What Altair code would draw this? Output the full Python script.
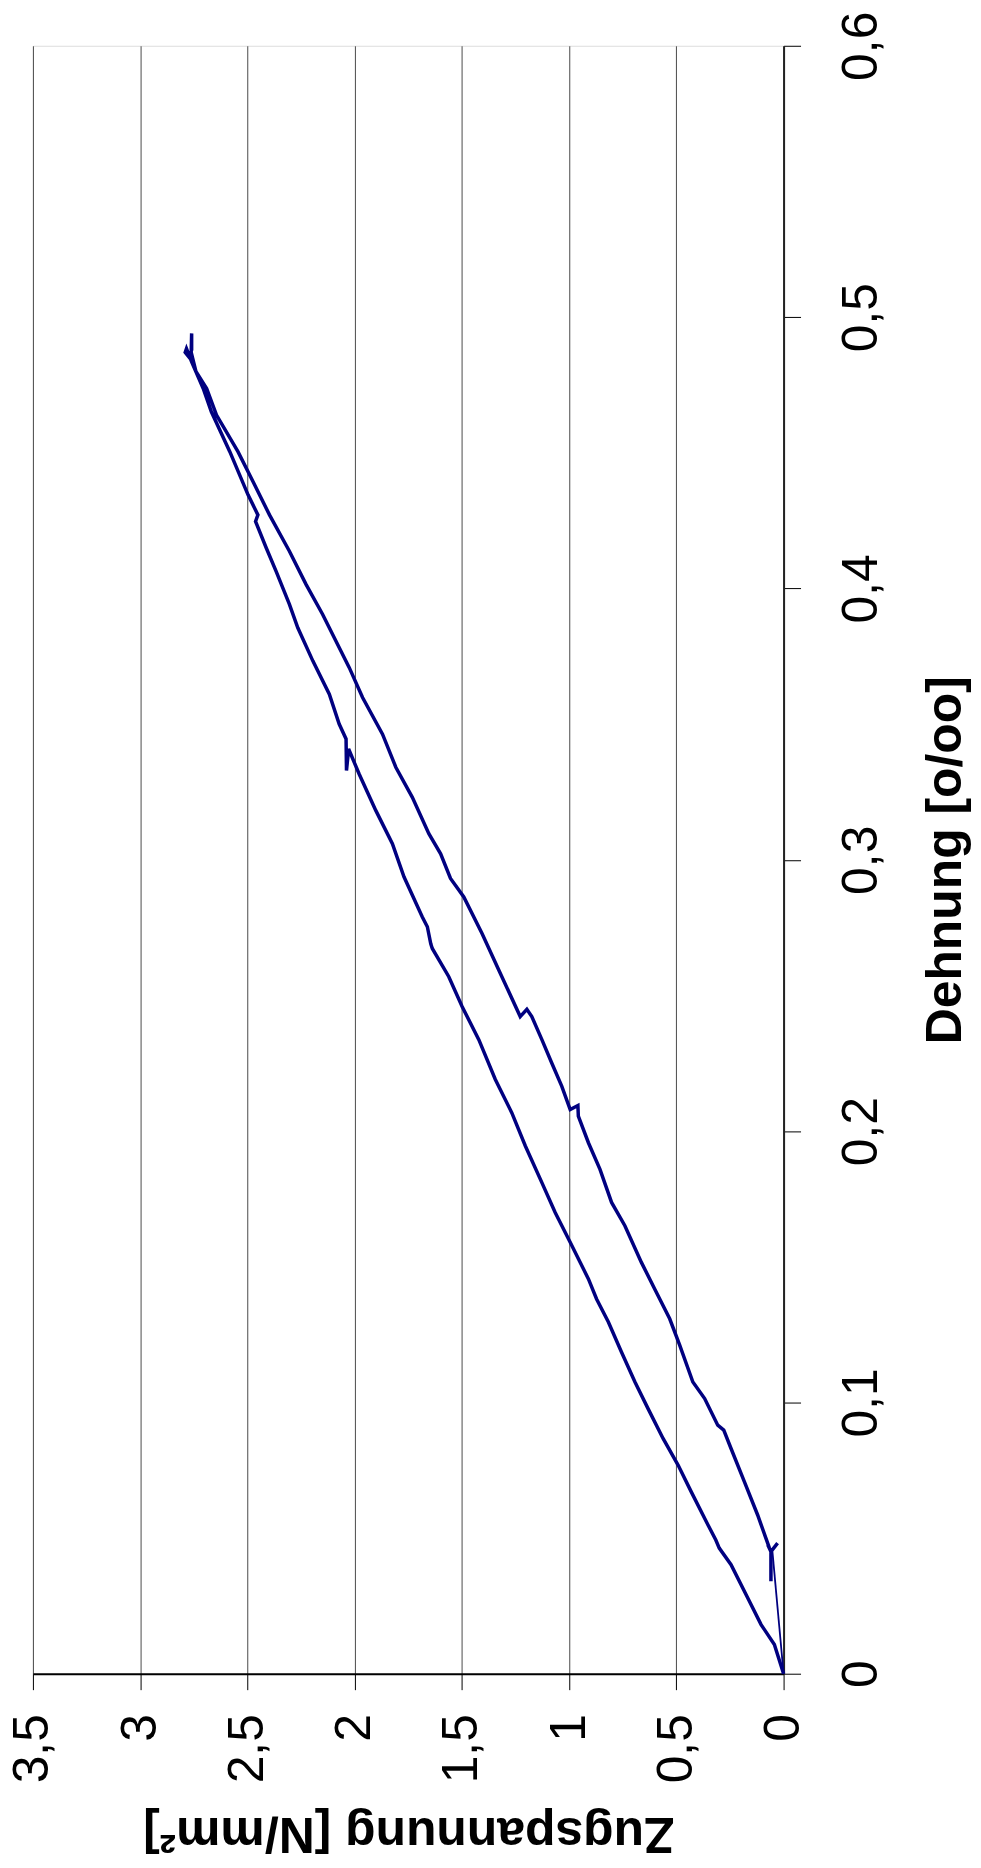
import altair as alt
import pandas as pd

# Hysteresis path: loading branch (left) from origin up to the peak, then unloading branch (right) down
dehnung = [
    0.0, 0.0108, 0.0181, 0.0279, 0.0402, 0.0463, 0.0493, 0.0549, 0.0671, 0.0769,
    0.0867, 0.0977, 0.1075, 0.1186, 0.1296, 0.1381, 0.1455, 0.1590, 0.1700, 0.1810,
    0.1945, 0.2067, 0.2190, 0.2337, 0.2459, 0.2569, 0.2673, 0.2690, 0.2753, 0.2790,
    0.2937, 0.3059, 0.3181, 0.3316, 0.3408, 0.3329, 0.3445, 0.3500, 0.3610, 0.3733,
    0.3855, 0.3941, 0.4063, 0.4149, 0.4247, 0.4271, 0.4345, 0.4504, 0.4651, 0.4737,
    0.4835, 0.4884, 0.4870, 0.4850, 0.4880, 0.4940, 0.4870, 0.4800, 0.4737, 0.4639,
    0.4504, 0.4394, 0.4271, 0.4137, 0.4014, 0.3904, 0.3769, 0.3708, 0.3598, 0.3463,
    0.3341, 0.3230, 0.3096, 0.3022, 0.2931, 0.2863, 0.2728, 0.2594, 0.2422, 0.2449,
    0.2422, 0.2337, 0.2251, 0.2165, 0.2079, 0.2094, 0.2055, 0.1957, 0.1859, 0.1737,
    0.1651, 0.1516, 0.1418, 0.1308, 0.1210, 0.1075, 0.1014, 0.0916, 0.0898, 0.0830,
    0.0708, 0.0585, 0.0463, 0.0450, 0.0481, 0.0450, 0.0475, 0.0450, 0.0341, 0.0450,
]
zugspannung = [
    0.0, 0.043, 0.105, 0.167, 0.245, 0.300, 0.316, 0.353, 0.431, 0.492,
    0.562, 0.632, 0.693, 0.756, 0.817, 0.872, 0.910, 0.995, 1.065, 1.127,
    1.204, 1.267, 1.344, 1.421, 1.499, 1.561, 1.638, 1.645, 1.661, 1.685,
    1.770, 1.824, 1.901, 1.979, 2.028, 2.038, 2.040, 2.072, 2.118, 2.195,
    2.265, 2.304, 2.366, 2.412, 2.462, 2.451, 2.497, 2.582, 2.668, 2.706,
    2.760, 2.784, 2.790, 2.770, 2.760, 2.760, 2.762, 2.740, 2.690, 2.644,
    2.544, 2.474, 2.397, 2.304, 2.226, 2.149, 2.064, 2.025, 1.963, 1.870,
    1.808, 1.731, 1.654, 1.599, 1.553, 1.491, 1.406, 1.328, 1.228, 1.197,
    1.174, 1.127, 1.081, 1.034, 0.995, 0.959, 0.957, 0.910, 0.856, 0.802,
    0.740, 0.663, 0.601, 0.531, 0.484, 0.423, 0.368, 0.307, 0.279, 0.245,
    0.183, 0.121, 0.066, 0.059, 0.028, 0.059, 0.074, 0.059, 0.059, 0.059,
]
# thin return segment from the end of the unloading branch back to the origin
dehnung_return = [0.0450, 0.0]
zugspannung_return = [0.052, 0.0]

x_ticks = [0, 0.5, 1, 1.5, 2, 2.5, 3, 3.5]
y_ticks = [0, 0.1, 0.2, 0.3, 0.4, 0.5, 0.6]

df = pd.DataFrame({"i": list(range(len(dehnung))), "Dehnung": dehnung, "Zugspannung": zugspannung})
df_ret = pd.DataFrame({"i": [0, 1], "Dehnung": dehnung_return, "Zugspannung": zugspannung_return})

W, H = 753, 1633
FONT = "Liberation Sans"
lbl = "replace(format(datum.value, '~g'), '.', ',')"

x_enc = alt.X(
    "Zugspannung:Q",
    scale=alt.Scale(domain=[0, 3.5], reverse=True, nice=False, zero=True),
    axis=alt.Axis(
        orient="bottom", values=x_ticks, labelExpr=lbl,
        labelAngle=270, labelAlign="right", labelBaseline="middle",
        labelFont=FONT, labelFontSize=50, labelColor="black", labelPadding=24,
        labelFlush=False, labelOverlap=False,
        tickSize=16, tickColor="black", tickWidth=1,
        domainColor="black", domainWidth=2,
        grid=True, gridColor="#4a4a4a", gridWidth=1,
        title="Zugspannung [N/mm²]", titleFont=FONT, titleFontSize=50,
        titleFontWeight="bold", titleColor="black", titleAngle=180,
        titleAlign="center", titleBaseline="alphabetic", titleX=W / 2, titleY=144,
    ),
)
y_enc = alt.Y(
    "Dehnung:Q",
    scale=alt.Scale(domain=[0, 0.6], nice=False),
    axis=alt.Axis(
        orient="right", values=y_ticks, labelExpr=lbl,
        labelAngle=270, labelAlign="center", labelBaseline="top",
        labelFont=FONT, labelFontSize=50, labelColor="black", labelPadding=36,
        labelFlush=False, labelOverlap=False,
        tickSize=17, tickColor="black", tickWidth=1,
        domainColor="#222222", domainWidth=2, grid=False,
        title="Dehnung [o/oo]", titleFont=FONT, titleFontSize=50,
        titleFontWeight="bold", titleColor="black", titleAngle=270,
        titleAlign="center", titleBaseline="alphabetic", titleX=177, titleY=H / 2,
    ),
)

main = alt.Chart(df).mark_line(color="#000080", strokeWidth=3.5).encode(
    x=x_enc, y=y_enc, order="i:Q"
)
ret = alt.Chart(df_ret).mark_line(color="#000080", strokeWidth=1.8).encode(
    x=alt.X("Zugspannung:Q"), y=alt.Y("Dehnung:Q"), order="i:Q"
)

chart = (
    alt.layer(main, ret)
    .properties(
        width=W, height=H,
        autosize=alt.AutoSizeParams(type="none"),
        padding={"left": 25, "top": 35, "right": 190, "bottom": 192},
    )
    .configure_view(stroke="#808080", strokeWidth=2)
    .configure(background="white")
)

chart.save("out.html", embed_options={"renderer": "svg", "actions": False})
